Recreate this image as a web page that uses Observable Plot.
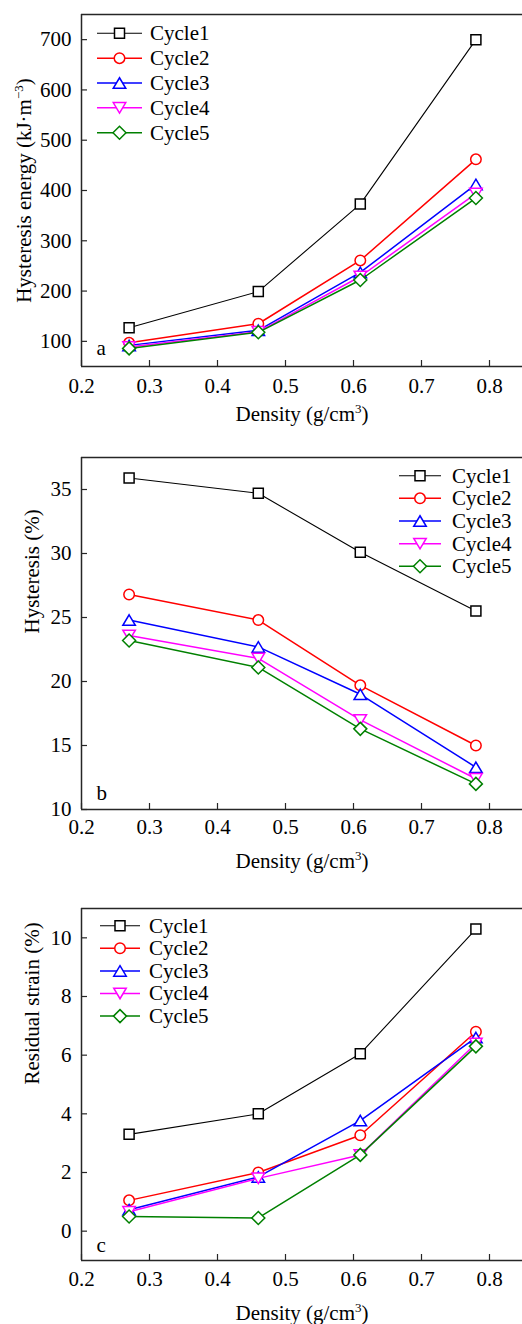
<!DOCTYPE html>
<html>
<head>
<meta charset="utf-8">
<script src="https://cdn.jsdelivr.net/npm/d3@7"></script>
<script src="https://cdn.jsdelivr.net/npm/@observablehq/plot@0.6"></script>
<style>
  body { margin: 0; background: #fff; }
  #chart svg { display: block; }
  #chart svg text, #chart svg tspan {
    font-family: 'Liberation Serif', 'Times New Roman', serif !important;
  }
</style>
</head>
<body>
<div id="chart"></div>
<script>
// Sample density (g/cm3) shared by all three panels
const density = [0.27, 0.46, 0.61, 0.78];
const cycles = ["Cycle1", "Cycle2", "Cycle3", "Cycle4", "Cycle5"];

// (a) Hysteresis energy, kJ·m^-3 — one row per cycle
const hysteresisEnergy = [
  [127, 199, 373, 700],
  [97, 135, 261, 462],
  [92, 122, 237, 412],
  [89, 119, 229, 394],
  [86, 118, 222, 385]
];
// (b) Hysteresis, %
const hysteresis = [
  [35.9, 34.7, 30.1, 25.5],
  [26.8, 24.8, 19.7, 15.0],
  [24.8, 22.7, 19.0, 13.3],
  [23.6, 21.8, 17.0, 12.4],
  [23.2, 21.1, 16.3, 12.0]
];
// (c) Residual strain, %
const residualStrain = [
  [3.3, 4.0, 6.05, 10.3],
  [1.05, 2.0, 3.27, 6.8],
  [0.73, 1.85, 3.77, 6.6],
  [0.66, 1.8, 2.6, 6.4],
  [0.5, 0.45, 2.6, 6.3]
];

const xTicks = [0.2, 0.3, 0.4, 0.5, 0.6, 0.7, 0.8];
const energyTicks = [100, 200, 300, 400, 500, 600, 700];
const hysteresisTicks = [10, 15, 20, 25, 30, 35];
const strainTicks = [0, 2, 4, 6, 8, 10];

const FONT = "'Liberation Serif', 'Times New Roman', serif";
const FS = 21;
const WIDTH = 522;
const M_LEFT = 81;
const X_DOMAIN = [0.2, 0.2 + (WIDTH - M_LEFT) / 680];
const AXIS = "#262626";
const colors = ["#000000", "#ff0000", "#0000ff", "#ff00ff", "#008000"];
const lineWidths = [1.1, 1.5, 1.5, 1.5, 1.5];

// Hollow marker shapes (size is the symbol area, as Plot and d3 pass it)
const rOf = s => Math.sqrt(s / Math.PI);
const square = {draw(c, s) { const r = rOf(s); c.rect(-r, -r, 2 * r, 2 * r); }};
const circle = {draw(c, s) { const r = rOf(s) * 1.05; c.moveTo(r, 0); c.arc(0, 0, r, 0, 2 * Math.PI); c.closePath(); }};
const triUp = {draw(c, s) { const r = rOf(s), h = 2.1 * r, w = 2.5 * r;
  c.moveTo(0, -h / 2); c.lineTo(w / 2, h / 2); c.lineTo(-w / 2, h / 2); c.closePath(); }};
const triDown = {draw(c, s) { const r = rOf(s), h = 2.1 * r, w = 2.5 * r;
  c.moveTo(0, h / 2); c.lineTo(w / 2, -h / 2); c.lineTo(-w / 2, -h / 2); c.closePath(); }};
const diamond = {draw(c, s) { const d = rOf(s) * 1.3;
  c.moveTo(0, -d); c.lineTo(d, 0); c.lineTo(0, d); c.lineTo(-d, 0); c.closePath(); }};
const symbols = [square, circle, triUp, triDown, diamond];
const R = 5;

// In-frame legend: sample line, marker and name for each cycle
function legend({lx, ly, step, len, tx}) {
  return (index, scales, values, dims) => {
    const g = d3.create("svg:g")
      .attr("font-family", FONT).attr("font-size", FS).attr("text-anchor", "start");
    const x0 = dims.marginLeft + lx;
    cycles.forEach((name, i) => {
      const y = dims.marginTop + ly + i * step;
      g.append("line")
        .attr("x1", x0).attr("x2", x0 + len).attr("y1", y).attr("y2", y)
        .attr("stroke", colors[i]).attr("stroke-width", lineWidths[i]);
      g.append("path")
        .attr("transform", `translate(${x0 + len / 2},${y})`)
        .attr("d", d3.symbol(symbols[i], Math.PI * R * R)())
        .attr("fill", "white").attr("stroke", colors[i]).attr("stroke-width", 1.5);
      g.append("text").attr("x", x0 + tx).attr("y", y).attr("dy", "0.33em")
        .attr("fill", "black").text(name);
    });
    return g.node();
  };
}

// Rewrites a plain label as base + raised small text + tail; rotated labels
// are re-centred by measuring their length once they are in the document.
function superscript(svg, [base, sup, tail]) {
  d3.select(svg).selectAll("text")
    .filter(function() { return this.textContent === base + sup + tail; })
    .each(function() {
      const t = d3.select(this).text(null);
      t.append("tspan").text(base);
      t.append("tspan").attr("font-size", 13).attr("dy", -8).text(sup);
      t.append("tspan").attr("dy", 8).text(tail);
      if ((this.getAttribute("transform") || "").includes("rotate")) {
        const len = this.getComputedTextLength();
        t.attr("text-anchor", "start").attr("x", -len / 2);
      }
    });
}

function panel(o) {
  const innerW = WIDTH - M_LEFT;
  const innerH = o.height - o.marginTop - o.marginBottom;
  const txt = {fontSize: FS, fontFamily: FONT, fill: "black"};
  const marks = [
    // frame: left, top and bottom edges
    Plot.ruleY([o.yDomain[1]], {stroke: AXIS, strokeWidth: 1.5}),
    Plot.ruleY([o.yDomain[0]], {stroke: AXIS, strokeWidth: 1.5}),
    Plot.ruleX([X_DOMAIN[0]], {stroke: AXIS, strokeWidth: 1.5}),
    // inward ticks
    Plot.tickX(xTicks, {x: d => d, insetTop: innerH - 6, stroke: AXIS, strokeWidth: 1.2}),
    Plot.tickY(o.yTicks, {y: d => d, insetRight: innerW - 6, stroke: AXIS, strokeWidth: 1.2}),
    Plot.axisX({ticks: xTicks, tickSize: 0, tickPadding: o.xPad, fontSize: FS, fontFamily: FONT,
      label: null, tickFormat: d => d.toFixed(1)}),
    Plot.axisY({ticks: o.yTicks, tickSize: 0, tickPadding: 10, fontSize: FS, fontFamily: FONT,
      label: null, tickFormat: d => String(d)}),
    // axis titles and panel letter
    Plot.text([o.xLabel.join("")], {frameAnchor: "bottom", lineAnchor: "bottom", dy: o.xLabelDy, ...txt}),
    Plot.text([o.yLabel.join("")], {frameAnchor: "left", rotate: -90, lineAnchor: "bottom",
      dx: o.yLabelDx, ...txt}),
    Plot.text([o.letter], {frameAnchor: "bottom-left", textAnchor: "start", lineAnchor: "bottom",
      dx: 15, dy: o.letterDy, ...txt})
  ];
  cycles.forEach((name, i) => {
    const pts = density.map((x, j) => ({x, y: o.values[i][j]}));
    marks.push(Plot.line(pts, {x: "x", y: "y", stroke: colors[i], strokeWidth: lineWidths[i]}));
    marks.push(Plot.dot(pts, {x: "x", y: "y", symbol: symbols[i], r: R, stroke: colors[i],
      fill: "white", strokeWidth: 1.5}));
  });
  marks.push(legend(o.legend));
  const svg = Plot.plot({
    width: WIDTH,
    height: o.height,
    marginLeft: M_LEFT,
    marginRight: 0,
    marginTop: o.marginTop,
    marginBottom: o.marginBottom,
    style: {"font-family": FONT, "font-size": FS + "px", "background": "white", "color": "black"},
    x: {domain: X_DOMAIN, label: null},
    y: {domain: o.yDomain, label: null},
    marks
  });
  chart.append(svg);
  superscript(svg, o.xLabel);
  if (o.yLabel[1]) superscript(svg, o.yLabel);
  return svg;
}

const xLabel = ["Density (g/cm", "3", ")"];
const chart = document.getElementById("chart");

panel({
  values: hysteresisEnergy, yDomain: [50, 750], yTicks: energyTicks,
  yLabel: ["Hysteresis energy (kJ\u00b7m", "\u22123", ")"], xLabel, letter: "a",
  height: 440, marginTop: 14, marginBottom: 74, xPad: 12, xLabelDy: 54, yLabelDx: -51, letterDy: -12,
  legend: {lx: 16, ly: 19.3, step: 24.85, len: 45, tx: 53}
});
panel({
  values: hysteresis, yDomain: [10, 37.5], yTicks: hysteresisTicks,
  yLabel: ["Hysteresis (%)", "", ""], xLabel, letter: "b",
  height: 440, marginTop: 17, marginBottom: 71, xPad: 10, xLabelDy: 58, yLabelDx: -43, letterDy: -10,
  legend: {lx: 318, ly: 18.7, step: 22.65, len: 42, tx: 53}
});
panel({
  values: residualStrain, yDomain: [-1, 11], yTicks: strainTicks,
  yLabel: ["Residual strain (%)", "", ""], xLabel, letter: "c",
  height: 444, marginTop: 28, marginBottom: 64, xPad: 11, xLabelDy: 59, yLabelDx: -43, letterDy: -9,
  legend: {lx: 19, ly: 17.7, step: 22.6, len: 40, tx: 49}
});
</script>
</body>
</html>
